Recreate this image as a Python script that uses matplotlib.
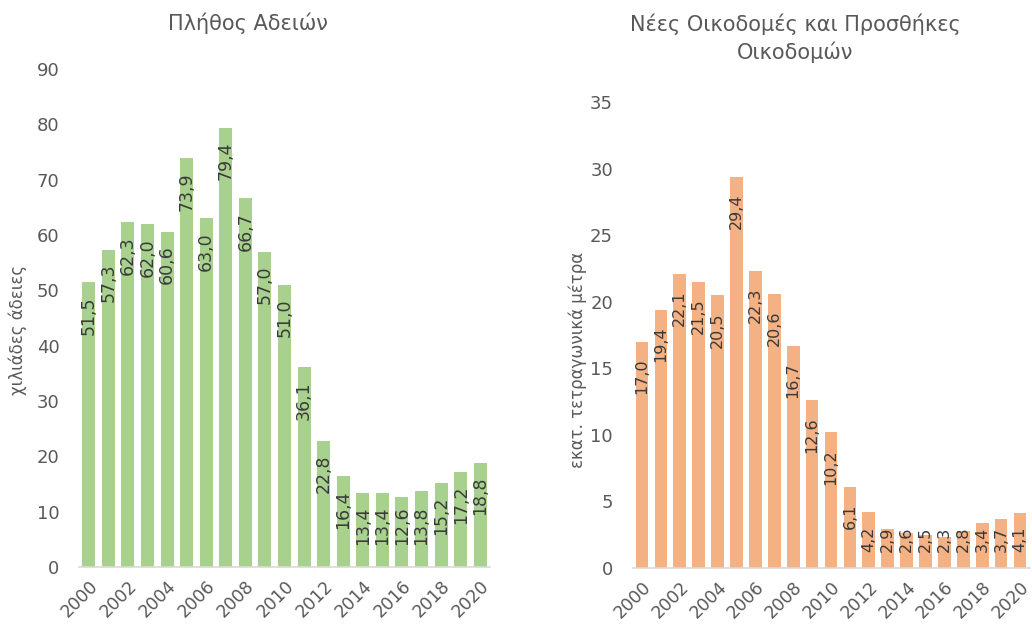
import matplotlib.pyplot as plt
import numpy as np

# ==========================================
# ДАННЫЕ
# ==========================================
years = list(range(2000, 2021))
permits = [51.5, 57.3, 62.3, 62.0, 60.6, 73.9, 63.0, 79.4, 66.7, 57.0, 51.0,
           36.1, 22.8, 16.4, 13.4, 13.4, 12.6, 13.8, 15.2, 17.2, 18.8]
area = [17.0, 19.4, 22.1, 21.5, 20.5, 29.4, 22.3, 20.6, 16.7, 12.6, 10.2,
        6.1, 4.2, 2.9, 2.6, 2.5, 2.3, 2.8, 3.4, 3.7, 4.1]

title_left = 'Πλήθος Αδειών'
title_right = 'Νέες Οικοδομές και Προσθήκες\nΟικοδομών'
ylabel_left = 'χιλιάδες άδειες'
ylabel_right = 'εκατ. τετραγωνικά μέτρα'

green = '#A9D18E'
orange = '#F4B183'
grey_txt = '#595959'
lab_txt = '#3A3A3A'

W, H = 1032, 632
fig = plt.figure(figsize=(W / 100, H / 100), dpi=100)
plt.rcParams['font.family'] = ['DejaVu Sans']


def px_axes(x0, x1, y_top, y_bottom):
    # позиция осей в пикселях -> доли фигуры
    return fig.add_axes([x0 / W, (H - y_bottom) / H, (x1 - x0) / W, (y_bottom - y_top) / H])


def draw(ax, values, color, ymax, yticks, lab_size, pad_px, len_px, floor_px):
    x = np.arange(len(values))
    ax.bar(x, values, width=0.67, color=color)
    ax.set_xlim(-0.5, len(values) - 0.5)
    ax.set_ylim(0, ymax)
    ax.set_yticks(yticks)
    ax.set_xticks(x[::2])
    ax.set_xticklabels([str(y) for y in years[::2]], rotation=45, ha='right',
                       va='top', rotation_mode='anchor', fontsize=12.5, color=grey_txt)
    ax.tick_params(axis='y', length=0, pad=14, labelsize=13, labelcolor=grey_txt)
    ax.tick_params(axis='x', length=0, pad=7)
    for s in ['top', 'right', 'left']:
        ax.spines[s].set_visible(False)
    ax.spines['bottom'].set_color('#D9D9D9')
    ax.spines['bottom'].set_linewidth(1.2)

    # пикселей на единицу данных
    ppu = ax.transData.transform((0, 1))[1] - ax.transData.transform((0, 0))[1]
    for i, v in enumerate(values):
        s = f'{v:.1f}'.replace('.', ',')
        top_px = v * ppu - pad_px
        if top_px - len_px < floor_px:
            ax.text(i, floor_px / ppu, s, rotation=90, ha='center', va='bottom',
                    fontsize=lab_size, color=lab_txt)
        else:
            ax.text(i, top_px / ppu, s, rotation=90, ha='center', va='top',
                    fontsize=lab_size, color=lab_txt)


ax1 = px_axes(79, 490, 69, 567)
draw(ax1, permits, green, 90, range(0, 91, 10), 12.5, 14, 45, 22)

ax2 = px_axes(632.5, 1029.5, 102, 568)
draw(ax2, area, orange, 35, range(0, 36, 5), 11.5, 17, 37, 16)

fig.text(248 / W, 1 - 23 / H, title_left, ha='center', va='center', fontsize=15, color=grey_txt)
fig.text(795 / W, 1 - 38 / H, title_right, ha='center', va='center', fontsize=15,
         color=grey_txt, linespacing=1.35)
fig.text(18 / W, 1 - 330 / H, ylabel_left, rotation=90, ha='center', va='center',
         fontsize=12, color=grey_txt)
fig.text(578 / W, 1 - 360 / H, ylabel_right, rotation=90, ha='center', va='center',
         fontsize=12, color=grey_txt)

fig.savefig('out.png', dpi=100, facecolor='white')
